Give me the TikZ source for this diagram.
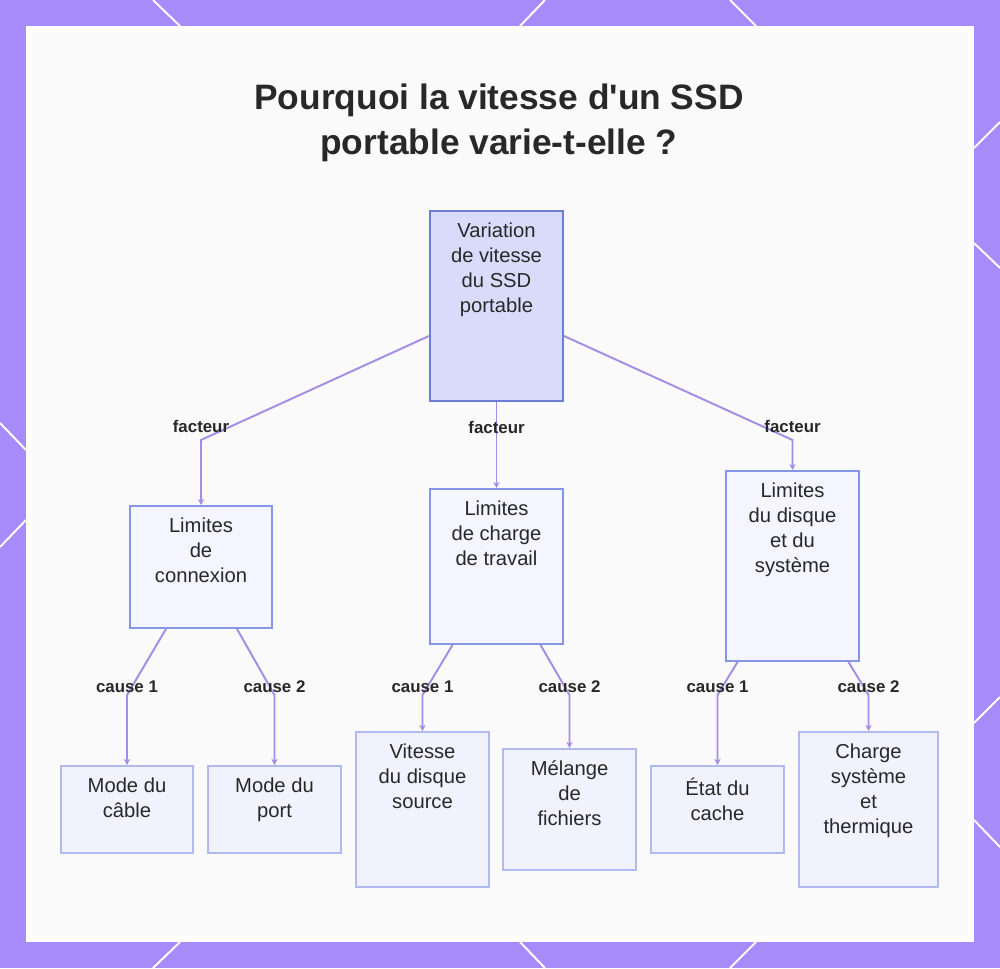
\documentclass[tikz,border=0pt]{standalone}
\usepackage{fontspec}
\setmainfont{Liberation Sans}[Ligatures=TeXOff]
\usepackage{tikz}
\usetikzlibrary{shapes}
\usetikzlibrary{arrows.meta}
\usetikzlibrary{calc}
\usepackage{xcolor}
\definecolor{framecol}{RGB}{167,139,250}
\definecolor{inner}{RGB}{250,250,250}
\definecolor{edge}{RGB}{165,140,228}
\definecolor{ink}{RGB}{40,40,40}
\definecolor{rootfill}{RGB}{216,220,250}
\definecolor{rootline}{RGB}{110,125,215}
\definecolor{midfill}{RGB}{244,245,254}
\definecolor{midline}{RGB}{134,150,230}
\definecolor{leaffill}{RGB}{240,242,254}
\definecolor{leafline}{RGB}{176,186,240}
\newlength{\unitpx}
\setlength{\unitpx}{0.02cm}
\newcommand{\boxtext}[3]{\begin{minipage}[t][#2\unitpx][t]{#1\unitpx}\centering\vspace*{6.8pt}#3\end{minipage}}
\tikzset{
	root node/.style={draw=rootline,fill=rootfill,line width=1.1pt,inner sep=0pt,anchor=north,text=ink,font=\fontsize{11.5}{14.2}\selectfont},
	main node/.style={draw=midline,fill=midfill,line width=1.1pt,inner sep=0pt,anchor=north,text=ink,font=\fontsize{11.5}{14.2}\selectfont},
	leaf node/.style={draw=leafline,fill=leaffill,line width=1.1pt,inner sep=0pt,anchor=north,text=ink,font=\fontsize{11.5}{14.2}\selectfont},
	lbl/.style={inner sep=0pt,text=ink,font=\fontsize{9.6}{11}\selectfont\bfseries},
	title node/.style={align=center,text=ink,font=\fontsize{20.1}{25.5}\selectfont\bfseries},
	link/.style={draw=edge,line width=1.1pt}
}

\begin{document}
\begin{tikzpicture}[->,>={Stealth[length=3.5pt,width=3.5pt]},x=0.02cm,y=-0.02cm]
  \useasboundingbox (0,0) rectangle (1000,968);
  % frame
  \begin{scope}[-]
    \fill[framecol] (0,0) rectangle (1000,968);
    \fill[white] (26,26) rectangle (974,942);
    \fill[inner] (32,32) rectangle (968,936);
    \draw[white,line width=1.1pt] (153,0) -- (180,26) (545,0) -- (520,26) (730,0) -- (756,26)
      (153,968) -- (180,942) (545,968) -- (520,942) (730,968) -- (756,942)
      (974,148) -- (1000,122) (974,243) -- (1000,268) (974,723) -- (1000,697) (974,820) -- (1000,847)
      (0,423) -- (26,450) (26,520) -- (0,547);
  \end{scope}

  \node[title node] (0) at (499,123) {Pourquoi la vitesse d'un SSD\\portable varie-t-elle ?};

  \node[root node] (1) at (496.5,210) {\boxtext{133}{190}{Variation\\de vitesse\\du SSD\\portable}};
  \node[main node] (2) at (201,505) {\boxtext{142}{122}{Limites\\de\\connexion}};
  \node[main node] (3) at (496.5,488) {\boxtext{133}{155}{Limites\\de charge\\de travail}};
  \node[main node] (4) at (792.5,470) {\boxtext{133}{190}{Limites\\du disque\\et du\\système}};
  \node[leaf node] (5) at (127,765) {\boxtext{132}{87}{Mode du\\câble}};
  \node[leaf node] (6) at (274.5,765) {\boxtext{133}{87}{Mode du\\port}};
  \node[leaf node] (7) at (422.5,731) {\boxtext{133}{155}{Vitesse\\du disque\\source}};
  \node[leaf node] (8) at (569.5,748) {\boxtext{133}{121}{Mélange\\de\\fichiers}};
  \node[leaf node] (9) at (717.5,765) {\boxtext{133}{87}{État du\\cache}};
  \node[leaf node] (10) at (868.5,731) {\boxtext{139}{155}{Charge\\système\\et\\thermique}};

  % facteurs
  \draw[link] ($(1.west)+(0,30)$) -- ($(2.north)+(0,-65)$) node[lbl,yshift=0.28cm] (f1) {facteur} -- (2.north);
  \draw[link] (1.south) -- (3.north) node[lbl,pos=0.3] (f2) {facteur};
  \draw[link] ($(1.east)+(0,30)$) -- ($(4.north)+(0,-30)$) node[lbl,yshift=0.28cm] (f3) {facteur} -- (4.north);

  % causes
  \draw[link] ($(2.south)+(-35,0)$) -- ($(5.north)+(0,-70)$) node[lbl,yshift=0.16cm] (c1) {cause 1} -- (5.north);
  \draw[link] ($(2.south)+(36,0)$) -- ($(6.north)+(0,-70)$) node[lbl,yshift=0.16cm] (c2) {cause 2} -- (6.north);
  \draw[link] ($(3.south)+(-44,0)$) -- ($(7.north)+(0,-36)$) node[lbl,yshift=0.16cm] (c3) {cause 1} -- (7.north);
  \draw[link] ($(3.south)+(44,0)$) -- ($(8.north)+(0,-53)$) node[lbl,yshift=0.16cm] (c4) {cause 2} -- (8.north);
  \draw[link] ($(4.south)+(-55,0)$) -- ($(9.north)+(0,-70)$) node[lbl,yshift=0.16cm] (c5) {cause 1} -- (9.north);
  \draw[link] ($(4.south)+(56,0)$) -- ($(10.north)+(0,-36)$) node[lbl,yshift=0.16cm] (c6) {cause 2} -- (10.north);
\end{tikzpicture}
\end{document}
